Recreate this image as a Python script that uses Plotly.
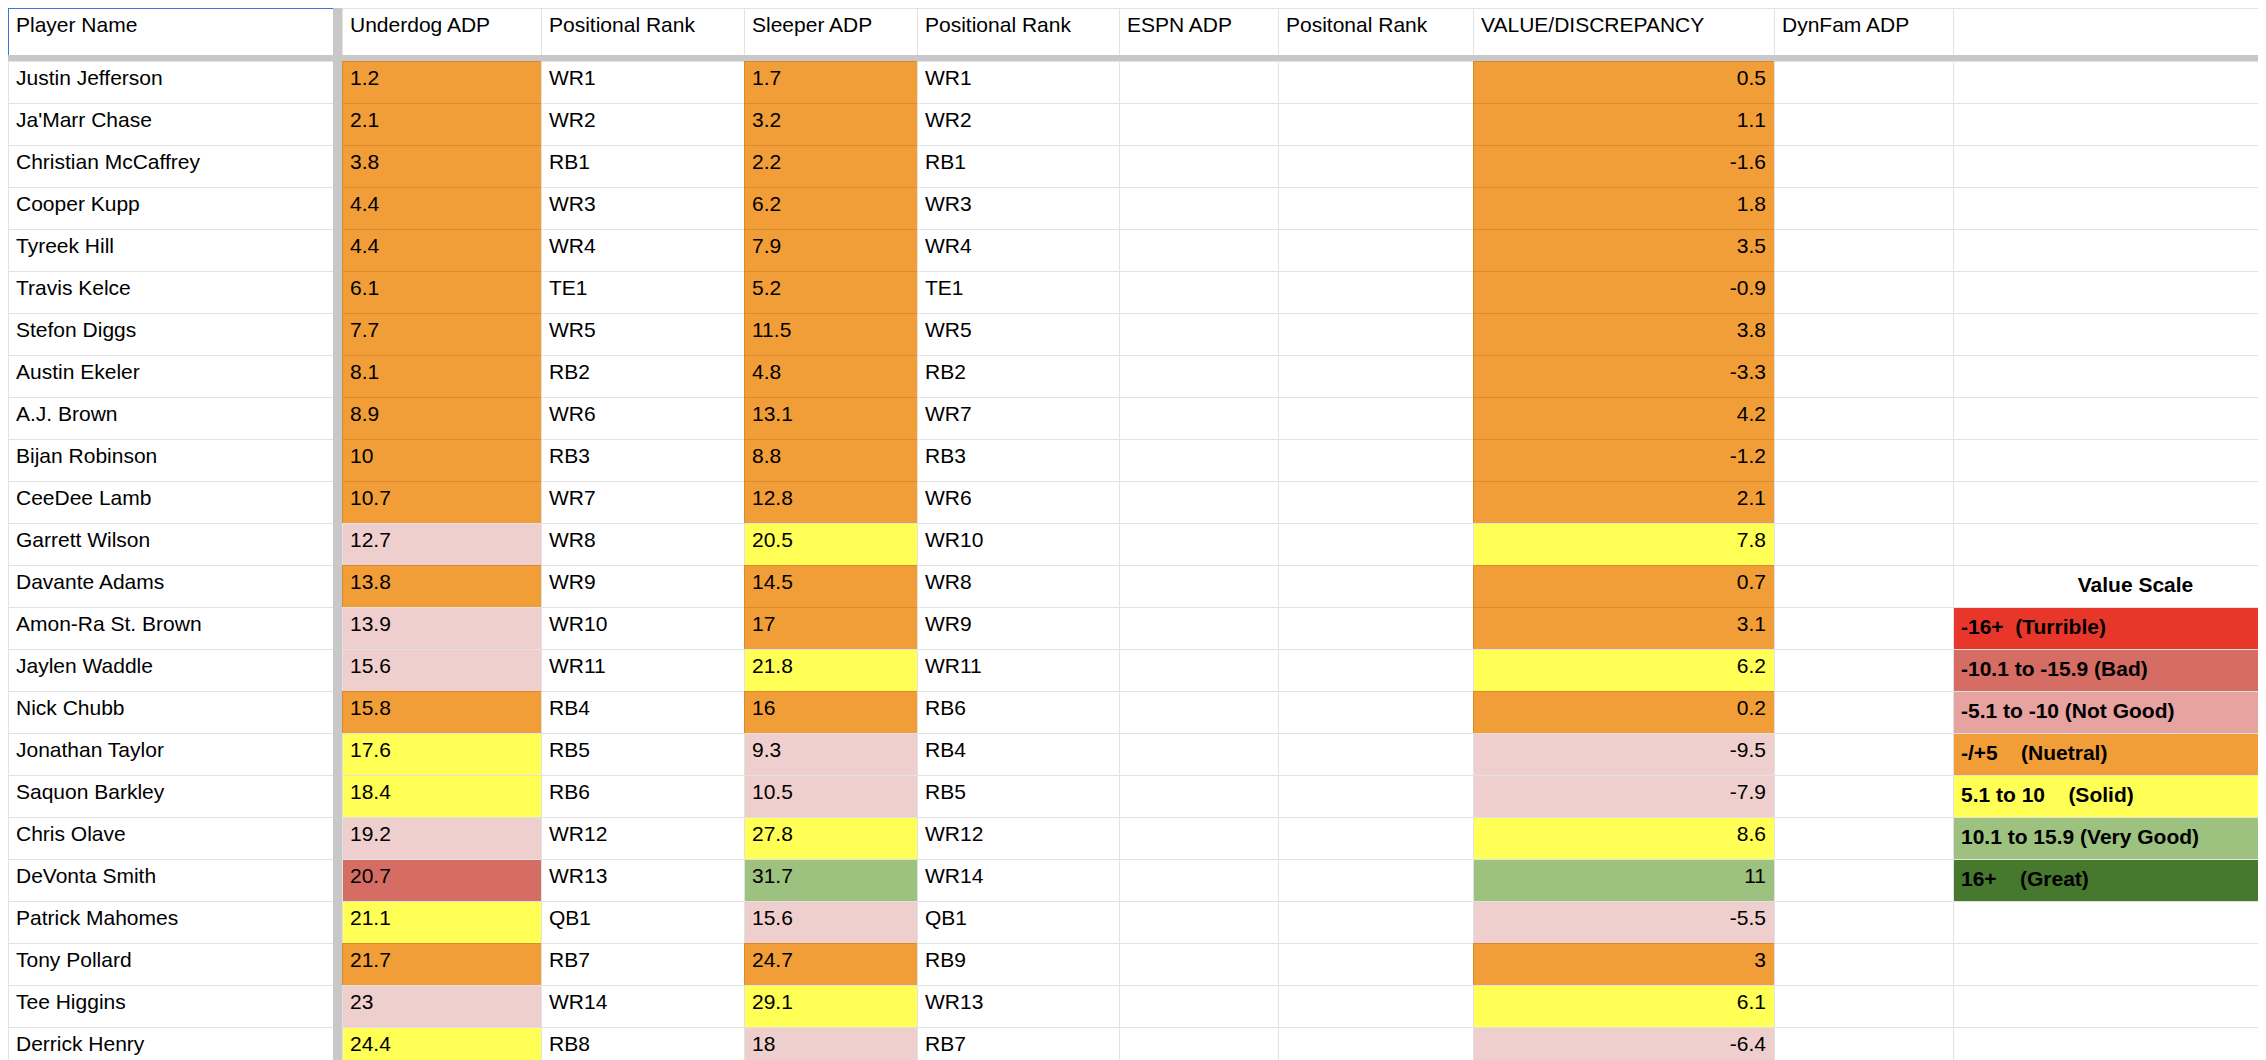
import plotly.graph_objects as go

headers = ["Player Name", "", "Underdog ADP", "Positional Rank", "Sleeper ADP", "Positional Rank",
           "ESPN ADP", "Positonal Rank", "VALUE/DISCREPANCY", "DynFam ADP", ""]
players = ["Justin Jefferson", "Ja'Marr Chase", "Christian McCaffrey", "Cooper Kupp", "Tyreek Hill",
           "Travis Kelce", "Stefon Diggs", "Austin Ekeler", "A.J. Brown", "Bijan Robinson", "CeeDee Lamb",
           "Garrett Wilson", "Davante Adams", "Amon-Ra St. Brown", "Jaylen Waddle", "Nick Chubb",
           "Jonathan Taylor", "Saquon Barkley", "Chris Olave", "DeVonta Smith", "Patrick Mahomes",
           "Tony Pollard", "Tee Higgins", "Derrick Henry"]
underdog = ["1.2", "2.1", "3.8", "4.4", "4.4", "6.1", "7.7", "8.1", "8.9", "10", "10.7", "12.7", "13.8",
            "13.9", "15.6", "15.8", "17.6", "18.4", "19.2", "20.7", "21.1", "21.7", "23", "24.4"]
ud_rank = ["WR1", "WR2", "RB1", "WR3", "WR4", "TE1", "WR5", "RB2", "WR6", "RB3", "WR7", "WR8", "WR9",
           "WR10", "WR11", "RB4", "RB5", "RB6", "WR12", "WR13", "QB1", "RB7", "WR14", "RB8"]
sleeper = ["1.7", "3.2", "2.2", "6.2", "7.9", "5.2", "11.5", "4.8", "13.1", "8.8", "12.8", "20.5", "14.5",
           "17", "21.8", "16", "9.3", "10.5", "27.8", "31.7", "15.6", "24.7", "29.1", "18"]
sl_rank = ["WR1", "WR2", "RB1", "WR3", "WR4", "TE1", "WR5", "RB2", "WR7", "RB3", "WR6", "WR10", "WR8",
           "WR9", "WR11", "RB6", "RB4", "RB5", "WR12", "WR14", "QB1", "RB9", "WR13", "RB7"]
value = ["0.5", "1.1", "-1.6", "1.8", "3.5", "-0.9", "3.8", "-3.3", "4.2", "-1.2", "2.1", "7.8", "0.7",
         "3.1", "6.2", "0.2", "-9.5", "-7.9", "8.6", "11", "-5.5", "3", "6.1", "-6.4"]
ud_class = list("OOOOOOOOOOOPOPPOYYPRYOPY")
sl_class = list("OOOOOOOOOOOYOOYOPPYGPOYP")
scale_labels = ["Value Scale", "-16+  (Turrible)", "-10.1 to -15.9 (Bad)", "-5.1 to -10 (Not Good)",
                "-/+5    (Nuetral)", "5.1 to 10    (Solid)", "10.1 to 15.9 (Very Good)", "16+    (Great)"]
scale_class = ["W", "T", "R", "N", "O", "Y", "G", "D"]

C = {"O": "#F19E38", "P": "#EFCFCD", "Y": "#FFFF55", "R": "#D66D64", "G": "#9DC27F",
     "W": "white", "T": "#E8372A", "N": "#E6A3A0", "D": "#46792D"}
LC = {"O": "#D98A2E"}

n = len(players)
empty = [""] * n
gap = [""] * n
scale_col = [""] * n
scale_fill = ["white"] * n
for i, (lab, c) in enumerate(zip(scale_labels, scale_class)):
    r = 12 + i
    if i == 0:
        scale_col[r] = "&nbsp;" * 20 + "<b>" + lab + "</b>"
    else:
        scale_col[r] = "<b>" + lab.replace(" ", "&nbsp;") + "</b>"
    scale_fill[r] = C[c]

udf = [C[c] for c in ud_class]
slf = [C[c] for c in sl_class]
white = ["white"] * n
gray = ["#C8C8C8"] * n
lgray = "#E2E2E2"

cols = [players, gap, underdog, ud_rank, sleeper, sl_rank, empty, empty, value, empty, scale_col]
fills = [white, gray, udf, white, slf, white, white, white, slf, white, scale_fill]
def lc(classes):
    return [LC.get(c, lgray) for c in classes]
lines = [[lgray] * n, gray, lc(ud_class), [lgray] * n, lc(sl_class), [lgray] * n, [lgray] * n,
         [lgray] * n, lc(sl_class), [lgray] * n, [lgray] * n]
widths = [325, 9, 199, 203, 173, 202, 159, 195, 301, 179, 321]
aligns = ["left", "left", "left", "left", "left", "left", "left", "left", "right", "left", "left"]
font = dict(family="Liberation Sans, Arial", size=21, color="black")

fig = go.Figure()
fig.add_trace(go.Table(
    domain=dict(x=[0, 1], y=[1 - 48 / 1060, 1]),
    columnwidth=widths,
    header=dict(values=headers, height=48, align="left", font=font,
                fill_color=["white", "#C8C8C8"] + ["white"] * 9,
                line=dict(color=["#3D74D9", "#C8C8C8"] + [lgray] * 9, width=1)),
    cells=dict(values=[[] for _ in cols], height=42)))
# body: first data row rendered as the table's header row, rest as cells
fig.add_trace(go.Table(
    domain=dict(x=[0, 1], y=[0, 1 - 53 / 1060]),
    columnwidth=widths,
    header=dict(values=[c[0] for c in cols], height=42, align=aligns, font=font,
                fill_color=[f[0] for f in fills], line=dict(color=[l[0] for l in lines], width=1)),
    cells=dict(values=[c[1:] for c in cols], height=42, align=aligns, font=font,
               fill_color=[f[1:] for f in fills], line=dict(color=[l[1:] for l in lines], width=1))))
fig.update_layout(width=2266, height=1060, margin=dict(l=0, r=0, t=0, b=0),
                  paper_bgcolor="#C8C8C8")
fig.write_html("out.html")
